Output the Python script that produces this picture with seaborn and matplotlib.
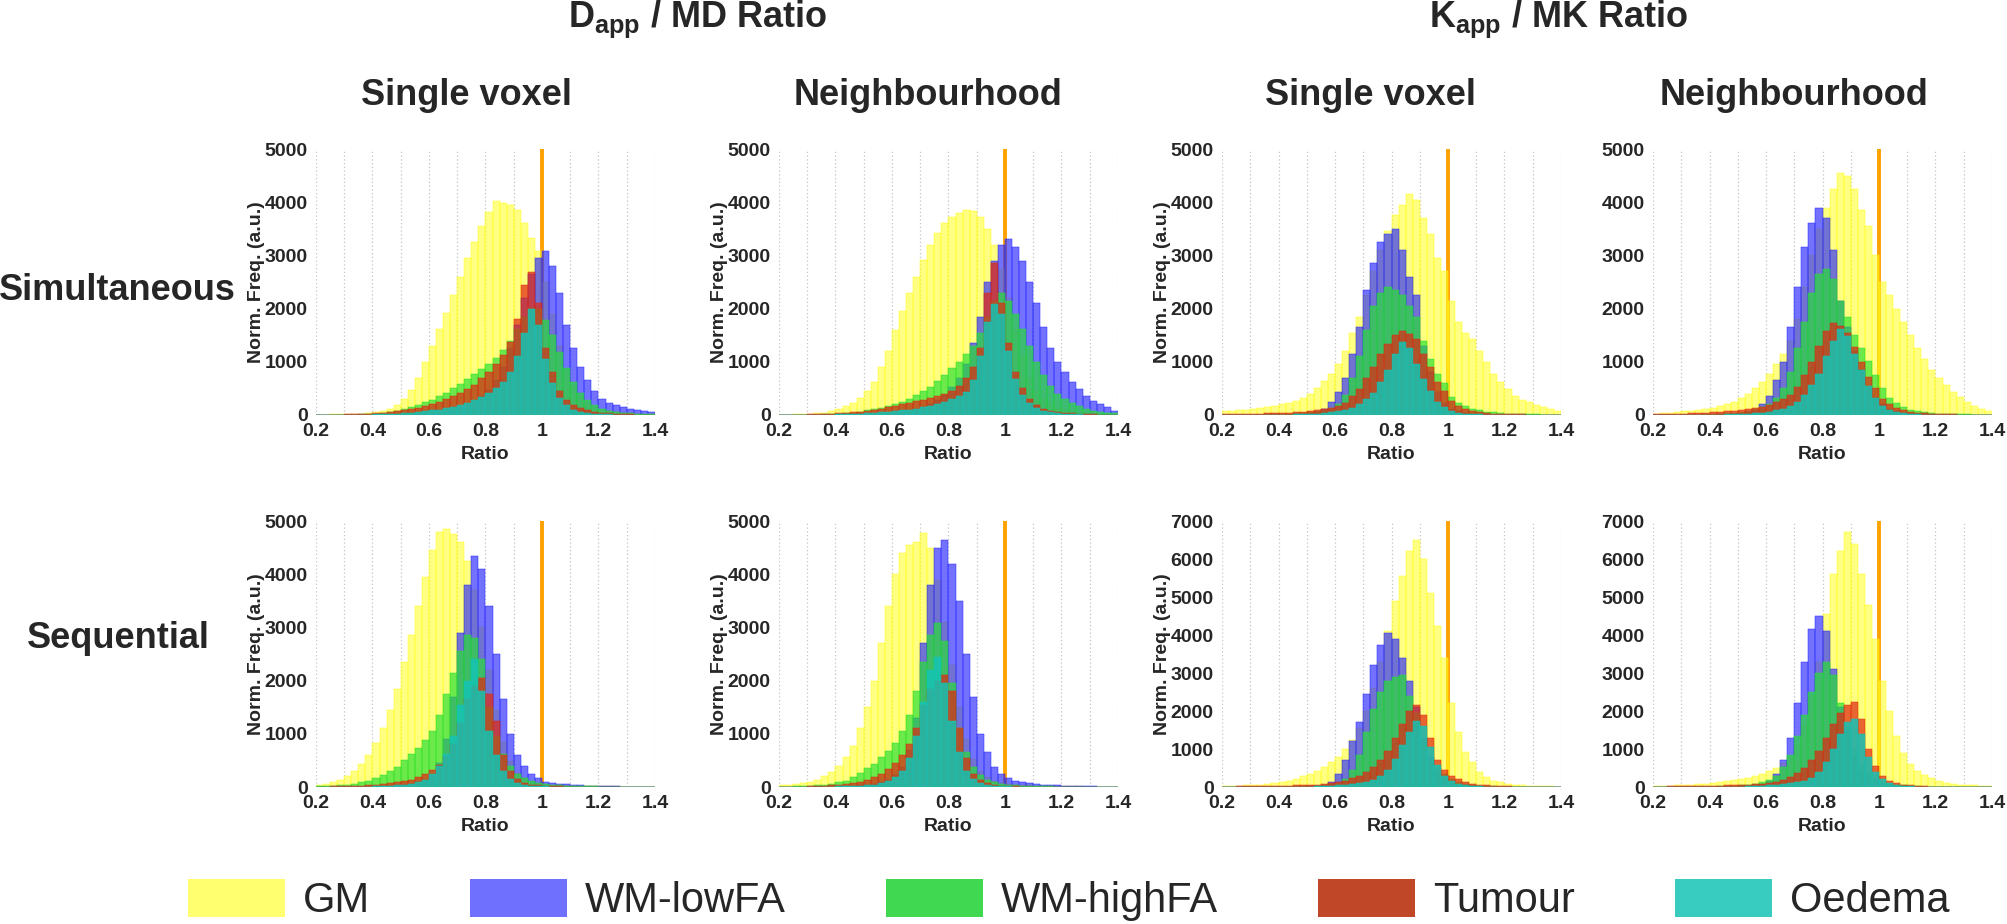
import numpy as np
import pandas as pd
import matplotlib
matplotlib.use("Agg")
import matplotlib.pyplot as plt
from matplotlib.patches import Patch
import seaborn as sns

# ---------------- data ----------------
tissues = ["GM", "WM-lowFA", "WM-highFA", "Tumour", "Oedema"]
col_groups = ["$\\mathbf{D_{app}}$ / MD Ratio", "$\\mathbf{K_{app}}$ / MK Ratio"]
col_titles = ["Single voxel", "Neighbourhood", "Single voxel", "Neighbourhood"]
row_titles = ["Simultaneous", "Sequential"]
x_tick_values = [0.2, 0.4, 0.6, 0.8, 1.0, 1.2, 1.4]
x_tick_labels = ["0.2", "0.4", "0.6", "0.8", "1", "1.2", "1.4"]
ratio_range = [0.2, 1.4]
bin_width = 0.025
reference_ratio = 1.0
ymax_rows = [[5000, 5000, 5000, 5000], [5000, 5000, 7000, 7000]]

# Simultaneous, Dapp/MD, single voxel
sim_d_voxel_gm = [5,8,10,12,15,18,25,35,55,80,120,180,300,470,700,1000,1300,1620,1920,2250,2600,2950,3250,3550,3820,4030,3990,3940,3850,3600,3330,3080,2500,1900,1300,850,550,350,230,150,100,70,50,40,30,25,20,15]
sim_d_voxel_wml = [0,0,0,0,0,0,0,0,0,5,5,10,10,15,20,30,40,55,75,100,140,190,260,350,470,650,900,1250,1700,2200,2650,2950,3080,2800,2300,1700,1250,900,650,450,300,220,180,150,120,90,70,50]
sim_d_voxel_wmh = [0,0,0,0,5,5,10,15,20,30,50,80,110,150,190,240,290,350,420,500,590,680,770,860,960,1080,1220,1400,1620,1850,2020,2000,1780,1500,1180,880,620,420,280,180,120,80,55,40,30,20,15,10]
sim_d_voxel_tum = [0,0,0,0,10,15,20,25,30,40,55,70,90,110,140,170,210,250,300,360,420,480,570,690,800,950,1120,1380,1800,2450,2680,2100,1250,800,450,280,180,130,90,60,40,30,20,15,10,8,5,5]
sim_d_voxel_oed = [0,0,0,0,0,0,5,5,10,15,20,25,35,45,55,70,85,100,125,150,185,230,280,340,410,500,620,800,1100,1550,2000,1700,1050,600,320,180,100,60,40,25,15,10,5,5,5,5,5,5]

# Simultaneous, Dapp/MD, neighbourhood
sim_d_neigh_gm = [5,8,10,12,20,30,45,70,110,160,230,320,450,620,900,1200,1600,1950,2300,2600,2920,3200,3430,3600,3720,3800,3850,3830,3720,3500,3200,2750,2200,1600,1100,700,450,300,200,130,90,60,45,35,25,20,15,12]
sim_d_neigh_wml = [0,0,0,0,0,0,0,0,0,5,5,10,10,15,20,30,40,55,75,110,150,200,280,380,520,700,950,1350,1850,2500,2900,3200,3300,3150,2900,2500,2100,1650,1250,1000,800,620,480,360,270,200,150,80]
sim_d_neigh_wmh = [0,0,0,0,5,5,10,15,20,30,45,65,90,110,135,160,200,250,300,370,450,530,640,750,880,1000,1150,1300,1550,1850,2150,2300,2150,1900,1620,1300,1000,750,550,400,300,220,160,110,80,55,40,30]
sim_d_neigh_tum = [0,0,0,0,10,15,20,25,30,40,50,65,80,100,120,145,170,200,230,260,290,320,350,400,460,550,700,900,1250,2300,2850,2100,1350,800,500,300,180,120,80,55,40,30,20,15,10,8,5,5]
sim_d_neigh_oed = [0,0,0,0,0,0,0,0,10,15,20,25,30,40,50,60,70,85,100,120,145,175,210,250,300,360,430,650,1100,1750,2080,1900,1200,680,380,220,130,80,50,30,20,15,10,8,5,5,5,5]

# Simultaneous, Kapp/MK, single voxel
sim_k_voxel_gm = [70,80,90,100,110,125,145,170,200,230,270,320,400,500,640,780,950,1200,1550,1850,2250,2700,3100,3450,3750,3950,4150,4050,3700,3400,2950,2700,2150,1750,1550,1420,1200,1000,780,620,480,360,290,240,190,150,110,75]
sim_k_voxel_wml = [0,0,0,0,0,0,0,5,5,5,10,20,30,50,120,250,430,700,1150,1650,2350,2850,3250,3400,3500,3100,2600,2250,1300,800,430,220,120,70,40,25,15,10,5,0,0,0,0,0,0,0,0,0]
sim_k_voxel_wmh = [0,0,0,0,5,5,10,10,15,20,30,40,55,75,95,130,200,380,700,1100,1600,2050,2300,2400,2350,2250,2050,1850,1400,1050,780,600,330,220,160,120,90,65,50,35,25,20,15,10,10,5,5,5]
sim_k_voxel_tum = [10,12,15,18,20,25,30,35,40,45,55,65,75,90,110,135,170,220,350,480,700,900,1150,1330,1500,1570,1530,1420,1150,900,620,450,260,160,110,75,50,35,25,20,15,10,10,8,5,5,5,5]
sim_k_voxel_oed = [0,0,0,0,0,0,0,0,5,8,10,15,20,25,35,50,70,100,140,200,300,420,620,850,1150,1370,1250,950,680,450,250,150,80,45,25,15,10,5,5,5,5,5,5,5,5,5,5,5]

# Simultaneous, Kapp/MK, neighbourhood
sim_k_neigh_gm = [25,35,45,55,70,80,95,110,135,160,200,250,320,400,500,620,780,950,1150,1400,1800,2400,3000,3500,3900,4250,4550,4500,4250,3850,3550,3000,2500,2250,2000,1750,1500,1250,1050,850,700,560,430,330,240,170,110,70]
sim_k_neigh_wml = [0,0,0,0,0,0,0,0,5,10,15,25,40,60,100,200,350,650,1000,1650,2400,3150,3600,3900,3700,3100,2150,1650,1200,850,520,320,200,120,70,45,30,20,15,10,5,5,5,5,5,5,5,5]
sim_k_neigh_wmh = [0,0,0,0,0,0,5,10,15,20,30,40,60,80,110,150,200,320,500,800,1250,1750,2300,2650,2750,2550,2150,1850,1500,1250,1020,760,500,320,220,150,100,70,50,35,25,20,15,10,10,5,5,5]
sim_k_neigh_tum = [10,12,15,20,25,30,35,40,50,60,70,80,90,105,125,150,190,240,300,380,520,750,1000,1300,1580,1730,1680,1550,1280,1000,720,500,310,200,130,90,60,40,30,20,15,10,10,8,5,5,5,5]
sim_k_neigh_oed = [0,0,0,0,0,0,0,0,5,5,10,10,15,20,30,45,65,90,120,170,250,380,560,780,1100,1400,1620,1480,1150,850,540,320,170,90,50,30,20,10,5,5,5,5,5,5,5,5,5,5]

# Sequential, Dapp/MD, single voxel
seq_d_voxel_gm = [40,60,90,140,200,300,430,600,820,1100,1450,1850,2350,2850,3400,3950,4450,4800,4850,4750,4600,4250,3700,3000,2200,1450,850,480,270,160,100,70,50,40,35,30,25,20,18,15,12,10,10,8,8,5,5,5]
seq_d_voxel_wml = [0,0,0,0,0,0,0,0,10,15,20,30,45,65,95,140,200,450,900,1700,2900,3800,4350,4100,3400,2500,1650,1000,600,400,250,160,100,80,60,50,40,30,25,20,15,10,10,8,5,5,5,5]
seq_d_voxel_wmh = [10,15,20,30,45,65,85,120,170,230,300,380,500,620,740,880,1050,1350,1750,2150,2550,2850,2800,2400,1500,950,620,400,250,160,110,80,60,45,35,25,20,15,12,10,8,5,5,5,5,5,5,5]
seq_d_voxel_tum = [5,5,10,10,15,15,25,30,45,55,70,90,110,140,180,240,320,420,580,800,1200,1650,1900,2050,1750,1250,600,300,150,80,45,30,20,15,10,8,5,5,5,5,5,5,5,5,5,5,5,5]
seq_d_voxel_oed = [0,0,0,0,0,0,0,0,10,15,20,30,45,60,90,140,250,400,620,950,1550,2000,2400,1800,1050,600,300,150,80,45,25,15,10,5,5,5,5,5,5,5,5,5,5,5,5,5,5,5]

# Sequential, Dapp/MD, neighbourhood
seq_d_neigh_gm = [30,40,55,75,100,140,200,280,400,560,780,1100,1500,2000,2700,3400,4000,4400,4550,4600,4780,4500,3900,3100,2300,1500,900,520,300,180,110,75,55,45,35,30,25,20,18,15,12,10,10,8,8,5,5,5]
seq_d_neigh_wml = [0,0,0,0,0,0,0,0,10,15,20,30,45,65,95,140,220,380,700,1300,2700,3800,4500,4650,4200,3500,2500,1700,1000,650,380,250,170,120,90,70,55,45,35,30,25,20,15,12,10,8,5,5]
seq_d_neigh_wmh = [5,5,10,10,20,30,45,60,85,120,180,260,350,440,560,680,830,1050,1350,1800,2350,2850,3080,2750,1950,1100,650,380,220,140,90,60,45,35,25,20,15,12,10,8,5,5,5,5,5,5,5,5]
seq_d_neigh_tum = [5,5,5,5,10,10,20,30,40,55,75,100,140,190,250,330,450,600,800,1100,1550,1850,2000,2100,1800,1100,550,250,130,70,40,25,15,10,8,5,5,5,5,5,5,5,5,5,5,5,5,5]
seq_d_neigh_oed = [0,0,0,0,0,0,0,0,10,10,15,15,30,45,70,110,180,300,550,950,1600,2200,2450,1950,1250,650,300,150,70,40,25,15,10,5,5,5,5,5,5,5,5,5,5,5,5,5,5,5]

# Sequential, Kapp/MK, single voxel
seq_k_voxel_gm = [20,25,30,40,50,65,80,100,130,170,220,280,340,420,520,650,800,1000,1250,1550,2000,2600,3300,4100,4900,5550,6200,6500,6000,5100,4250,3400,2200,1450,920,650,400,260,170,120,80,60,45,30,25,20,15,10]
seq_k_voxel_wml = [0,0,0,0,0,0,0,0,0,0,5,10,20,35,60,120,350,700,1200,1700,2450,3200,3750,4050,3900,3400,2800,2100,1300,800,420,230,110,60,35,20,10,5,5,5,5,5,5,5,5,5,5,5]
seq_k_voxel_wmh = [0,0,0,0,0,0,5,5,10,10,15,20,25,35,50,75,110,200,450,850,1450,2050,2500,2800,2900,2950,2400,1950,1200,700,500,350,200,120,70,45,30,20,15,10,8,5,5,5,5,5,5,5]
seq_k_voxel_tum = [10,10,15,15,20,20,25,25,30,35,40,45,50,60,75,95,125,170,230,300,400,520,700,950,1300,1650,2000,2170,1900,1300,720,450,280,200,130,90,60,40,30,20,15,10,8,5,5,5,5,5]
seq_k_voxel_oed = [0,0,0,0,0,0,0,0,0,0,5,5,10,15,20,30,45,60,80,110,140,190,300,450,750,1100,1450,1750,1600,1050,580,300,150,80,45,25,15,10,5,5,5,5,5,5,5,5,5,5]

# Sequential, Kapp/MK, neighbourhood
seq_k_neigh_gm = [20,25,30,40,50,60,70,85,100,120,145,175,210,250,300,350,420,500,620,800,1100,1600,2400,3300,4550,5600,6200,6700,6400,5600,4800,3900,2800,2000,1350,900,600,430,320,230,160,110,80,60,50,40,30,20]
seq_k_neigh_wml = [0,0,0,0,0,0,0,0,0,0,5,10,20,35,55,90,150,350,700,1300,2200,3300,4150,4500,4100,3100,2100,1500,850,450,260,150,90,55,35,20,10,5,5,5,5,5,5,5,5,5,5,5]
seq_k_neigh_wmh = [0,0,0,0,0,0,5,5,10,15,20,30,45,60,85,120,180,300,520,850,1350,1900,2500,3000,3300,2950,2200,1600,1000,600,380,230,140,90,60,40,25,15,10,8,5,5,5,5,5,5,5,5]
seq_k_neigh_tum = [10,10,15,15,20,20,25,25,30,35,40,45,55,65,75,90,110,140,190,260,370,500,700,950,1300,1650,1950,2150,2250,1800,1000,550,300,170,100,60,40,25,15,10,8,5,5,5,5,5,5,5]
seq_k_neigh_oed = [0,0,0,0,0,0,0,0,0,0,5,5,10,15,20,30,40,55,75,100,130,170,250,400,650,1000,1400,1700,1800,1400,800,400,200,100,55,30,15,10,5,5,5,5,5,5,5,5,5,5]

panel_series = [
    [
        [sim_d_voxel_gm, sim_d_voxel_wml, sim_d_voxel_wmh, sim_d_voxel_tum, sim_d_voxel_oed],
        [sim_d_neigh_gm, sim_d_neigh_wml, sim_d_neigh_wmh, sim_d_neigh_tum, sim_d_neigh_oed],
        [sim_k_voxel_gm, sim_k_voxel_wml, sim_k_voxel_wmh, sim_k_voxel_tum, sim_k_voxel_oed],
        [sim_k_neigh_gm, sim_k_neigh_wml, sim_k_neigh_wmh, sim_k_neigh_tum, sim_k_neigh_oed],
    ],
    [
        [seq_d_voxel_gm, seq_d_voxel_wml, seq_d_voxel_wmh, seq_d_voxel_tum, seq_d_voxel_oed],
        [seq_d_neigh_gm, seq_d_neigh_wml, seq_d_neigh_wmh, seq_d_neigh_tum, seq_d_neigh_oed],
        [seq_k_voxel_gm, seq_k_voxel_wml, seq_k_voxel_wmh, seq_k_voxel_tum, seq_k_voxel_oed],
        [seq_k_neigh_gm, seq_k_neigh_wml, seq_k_neigh_wmh, seq_k_neigh_tum, seq_k_neigh_oed],
    ],
]

# ---------------- style ----------------
bar_colors = [(1.0, 1.0, 0.1), (0.15, 0.15, 1.0), (0.15, 0.88, 0.2), (0.88, 0.16, 0.08), (0.08, 0.77, 0.71)]
bar_alphas = [0.55, 0.65, 0.68, 0.72, 0.85]
legend_colors = ["#FFFF70", "#7070FF", "#40D850", "#C04828", "#38CCC0"]

sns.set_style("white")
plt.rcParams["font.family"] = ["Liberation Sans", "DejaVu Sans"]
plt.rcParams["mathtext.fontset"] = "custom"
plt.rcParams["mathtext.rm"] = "Liberation Sans"
plt.rcParams["mathtext.bf"] = "Liberation Sans:bold"
plt.rcParams["mathtext.it"] = "Liberation Sans:italic"

W, H = 2008, 924
fig = plt.figure(figsize=(W / 100, H / 100), dpi=100)

edges = np.round(np.arange(ratio_range[0], ratio_range[1] + bin_width / 2, bin_width), 4)
centers = (edges[:-1] + edges[1:]) / 2
bin_edges = [float(e) for e in edges]

panel_left_px = [316, 779, 1222, 1653]
panel_width_px = 339
row_top_px = [149, 521]
row_height_px = 266

for r in range(2):
    for c in range(4):
        left = panel_left_px[c] / W
        bottom = 1 - (row_top_px[r] + row_height_px) / H
        ax = fig.add_axes([left, bottom, panel_width_px / W, row_height_px / H])
        ax.set_axisbelow(True)
        for t, vals, col, al in zip(tissues, panel_series[r][c], bar_colors, bar_alphas):
            df = pd.DataFrame({"ratio": centers, "freq": np.asarray(vals, dtype=float)})
            sns.histplot(data=df, x="ratio", weights="freq", bins=bin_edges, stat="count",
                         color=col, alpha=al, edgecolor=col, linewidth=0.35, ax=ax)
        ax.axvline(reference_ratio, color="#FFA200", lw=2.8, zorder=0.9)
        ax.set_xlim(*ratio_range)
        ymax = ymax_rows[r][c]
        ax.set_ylim(0, ymax)
        ax.set_yticks(np.arange(0, ymax + 1, 1000))
        ax.set_yticklabels([str(v) for v in range(0, ymax + 1, 1000)])
        ax.set_xticks(x_tick_values)
        ax.set_xticklabels(x_tick_labels)
        ax.set_xticks(np.round(np.arange(0.2, 1.41, 0.1), 2), minor=True)
        ax.grid(axis="x", which="both", linestyle=(0, (1, 2)), color="#c4c4c4", linewidth=0.9)
        ax.grid(axis="y", visible=False)
        for s in ax.spines.values():
            s.set_visible(False)
        ax.tick_params(axis="both", which="major", length=3, width=0.8, color="#9a9a9a",
                       labelsize=14, pad=3)
        ax.tick_params(axis="x", which="minor", length=0)
        for lab in ax.get_xticklabels() + ax.get_yticklabels():
            lab.set_fontweight("bold")
        ax.set_xlabel("Ratio", fontsize=14, fontweight="bold", labelpad=4)
        if c < 3:
            ax.set_ylabel("Norm. Freq. (a.u.)", fontsize=14, fontweight="bold")
            ax.yaxis.set_label_coords(-0.15, 0.5)
        else:
            ax.set_ylabel("")

# group titles
fig.text(698 / W, 1 - 27 / H, col_groups[0], fontsize=26, fontweight="bold", ha="center", va="baseline")
fig.text(1559 / W, 1 - 27 / H, col_groups[1], fontsize=26, fontweight="bold", ha="center", va="baseline")
for x_px, t in zip([466, 928, 1370, 1794], col_titles):
    fig.text(x_px / W, 1 - 105 / H, t, fontsize=26, fontweight="bold", ha="center", va="baseline")
fig.text(117 / W, 1 - 300 / H, row_titles[0], fontsize=26, fontweight="bold", ha="center", va="baseline")
fig.text(118 / W, 1 - 648 / H, row_titles[1], fontsize=26, fontweight="bold", ha="center", va="baseline")

handles = [Patch(facecolor=lc, edgecolor="none") for lc in legend_colors]
fig.legend(handles, tissues, loc="center", bbox_to_anchor=(0.532, 0.026), ncol=5, frameon=False,
           fontsize=30, handlelength=2.33, handleheight=1.03, handletextpad=0.43,
           columnspacing=2.4, borderaxespad=0, borderpad=0)

fig.savefig("out.png", dpi=100)
